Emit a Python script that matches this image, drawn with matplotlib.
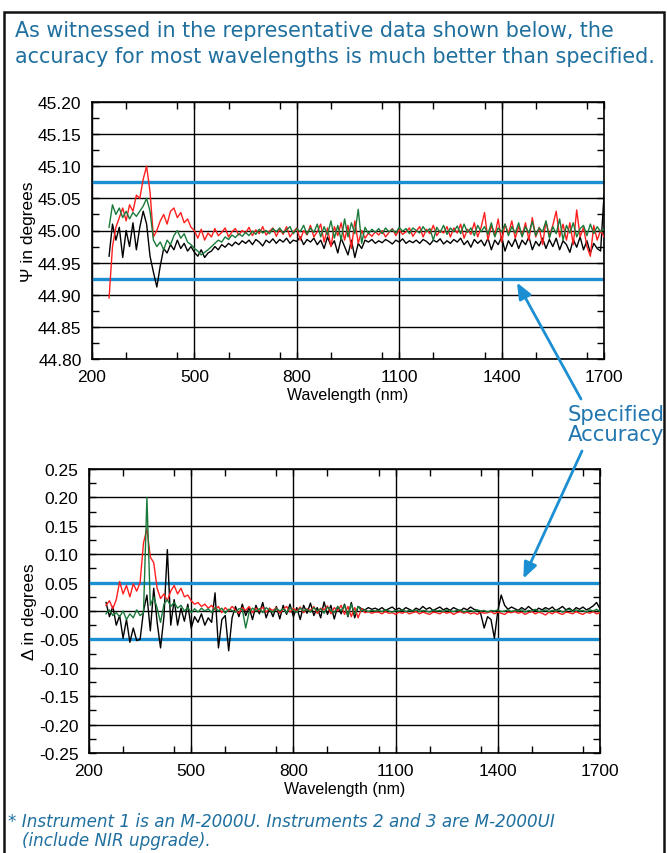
"""Psi / Delta accuracy of three instruments vs. wavelength."""

import matplotlib
matplotlib.use('Agg')
import matplotlib.pyplot as plt
from matplotlib.patches import Rectangle
from matplotlib.ticker import MultipleLocator
import numpy as np

# sampling grid (nm)
wavelength = np.arange(250, 1701, 10)

# Psi (degrees), one row per 100 nm starting at the commented wavelength
psi_inst1 = [  # black
    44.960, 45.010, 44.985, 45.005, 44.958, 45.000, 44.975, 45.012, 44.970, 45.005,  # 250
    45.030, 45.010, 44.960, 44.935, 44.912, 44.945, 44.972, 44.965, 44.978, 44.970,  # 350
    44.985, 44.972, 44.980, 44.968, 44.975, 44.966, 44.960, 44.970, 44.958, 44.965,  # 450
    44.968, 44.975, 44.970, 44.978, 44.974, 44.980, 44.976, 44.982, 44.978, 44.984,  # 550
    44.980, 44.985, 44.978, 44.986, 44.982, 44.976, 44.985, 44.981, 44.987, 44.980,  # 650
    44.986, 44.982, 44.988, 44.980, 44.985, 44.983, 44.990, 44.978, 44.986, 44.982,  # 750
    44.988, 44.978, 44.985, 44.972, 44.990, 44.976, 44.984, 44.965, 44.988, 44.975,  # 850
    44.962, 44.985, 44.958, 44.980, 44.972, 44.985, 44.982, 44.986, 44.980, 44.984,  # 950
    44.981, 44.986, 44.983, 44.979, 44.985, 44.982, 44.987, 44.980, 44.984, 44.981,  # 1050
    44.985, 44.980, 44.986, 44.983, 44.978, 44.985, 44.982, 44.987, 44.979, 44.984,  # 1150
    44.980, 44.986, 44.982, 44.988, 44.978, 44.984, 44.974, 44.986, 44.980, 44.985,  # 1250
    44.976, 44.988, 44.970, 44.985, 44.978, 44.990, 44.968, 44.984, 44.975, 44.987,  # 1350
    44.972, 44.985, 44.978, 44.990, 44.970, 44.983, 44.976, 44.988, 44.972, 44.986,  # 1450
    44.975, 44.988, 44.970, 44.984, 44.978, 44.966, 44.986, 44.974, 44.990, 44.970,  # 1550
    44.984, 44.965, 44.980, 44.972, 44.968, 45.055,                                  # 1650
]
psi_inst2 = [  # red
    44.895, 44.975, 45.005, 45.020, 45.035, 45.015, 45.040, 45.030, 45.055, 45.050,  # 250
    45.080, 45.100, 45.060, 44.990, 45.000, 45.015, 45.025, 45.010, 45.030, 45.035,  # 350
    45.020, 45.028, 45.012, 45.018, 45.005, 45.000, 44.988, 45.002, 44.985, 44.996,  # 450
    44.990, 45.003, 44.992, 44.997, 45.004, 44.990, 44.998, 45.003, 44.993, 45.000,  # 550
    44.996, 45.005, 44.992, 45.001, 44.995, 45.006, 44.993, 44.999, 45.004, 44.991,  # 650
    45.002, 44.994, 45.006, 44.990, 44.998, 45.004, 44.985, 45.000, 44.993, 45.008,  # 750
    44.990, 44.998, 45.010, 44.982, 45.004, 44.975, 45.006, 44.992, 45.012, 44.985,  # 850
    45.008, 44.972, 45.015, 44.980, 45.000, 44.988, 44.996, 44.991, 44.998, 44.993,  # 950
    45.000, 44.990, 44.997, 45.003, 44.992, 45.001, 44.994, 44.998, 45.004, 44.991,  # 1050
    44.999, 45.006, 44.990, 45.002, 44.995, 45.008, 44.992, 45.000, 44.996, 45.006,  # 1150
    44.990, 45.004, 44.996, 45.010, 44.988, 45.002, 44.994, 45.012, 44.990, 45.005,  # 1250
    45.028, 44.985, 45.008, 44.992, 45.018, 44.982, 45.010, 44.995, 45.015, 44.988,  # 1350
    45.006, 44.992, 45.012, 44.985, 45.020, 44.990, 45.005, 44.978, 45.014, 44.992,  # 1450
    45.008, 45.030, 44.990, 45.010, 44.985, 45.012, 44.978, 45.032, 44.990, 45.005,  # 1550
    44.975, 44.960, 45.008, 44.985, 45.000, 44.990,                                  # 1650
]
psi_inst3 = [  # green
    45.005, 45.040, 45.025, 45.035, 45.020, 45.030, 45.018, 45.028, 45.022, 45.030,  # 250
    45.038, 45.050, 45.030, 44.985, 44.975, 44.982, 44.970, 44.985, 44.978, 44.992,  # 350
    45.000, 44.988, 44.995, 44.982, 44.978, 44.972, 44.968, 44.962, 44.966, 44.970,  # 450
    44.975, 44.980, 44.985, 44.982, 44.990, 44.986, 44.993, 44.989, 44.995, 44.991,  # 550
    44.997, 44.992, 44.999, 44.994, 45.002, 44.996, 45.000, 44.995, 45.003, 44.998,  # 650
    45.004, 44.996, 45.001, 45.006, 44.995, 45.003, 44.998, 45.008, 44.994, 45.004,  # 750
    44.997, 45.010, 44.990, 45.006, 44.993, 45.015, 44.988, 45.008, 44.985, 45.018,  # 850
    44.990, 45.012, 44.995, 45.033, 44.980, 45.005, 44.995, 45.002, 44.997, 45.003,  # 950
    44.995, 45.004, 44.998, 45.002, 44.996, 45.005, 44.999, 45.003, 44.995, 45.004,  # 1050
    45.000, 44.996, 45.006, 44.998, 45.003, 44.985, 45.005, 44.997, 45.008, 44.994,  # 1150
    45.004, 44.998, 45.007, 44.995, 45.010, 44.997, 45.004, 44.992, 45.008, 44.998,  # 1250
    45.006, 44.994, 45.012, 44.990, 45.004, 44.998, 45.010, 44.992, 45.006, 44.996,  # 1350
    45.012, 44.990, 45.006, 44.996, 45.014, 44.992, 45.004, 44.998, 45.015, 44.988,  # 1450
    45.006, 44.995, 45.018, 44.985, 45.008, 44.996, 45.012, 44.990, 45.003, 45.008,  # 1550
    44.992, 45.010, 44.995, 45.006, 44.998, 45.002,                                  # 1650
]

# Delta (degrees)
delta_inst1 = [  # black
    0.015, -0.010, 0.008, -0.025, -0.008, -0.048, -0.015, -0.055, -0.030, -0.052,  # 250
    -0.050, 0.000, 0.028, -0.035, 0.040, -0.020, -0.065, -0.010, 0.108, -0.025,    # 350
    0.020, -0.025, 0.005, -0.018, 0.012, -0.030, -0.010, -0.020, -0.005, -0.025,   # 450
    -0.012, -0.020, 0.032, -0.065, -0.015, -0.008, -0.070, -0.012, 0.008, -0.010,  # 550
    0.012, -0.008, 0.006, -0.015, 0.010, -0.005, 0.015, -0.012, 0.005, -0.010,     # 650
    0.008, -0.014, 0.010, -0.006, 0.012, -0.010, 0.006, -0.015, 0.010, -0.004,     # 750
    0.014, -0.008, 0.006, -0.012, 0.016, -0.006, 0.010, -0.014, 0.008, -0.005,     # 850
    0.012, -0.010, 0.015, -0.012, 0.008, 0.004, 0.002, 0.006, 0.003, 0.005,        # 950
    0.002, 0.006, 0.001, 0.004, 0.007, 0.002, 0.005, 0.001, 0.006, 0.003,          # 1050
    0.000, 0.005, 0.002, 0.008, 0.003, 0.006, 0.001, 0.004, 0.007, 0.002,          # 1150
    0.005, 0.001, 0.006, 0.003, 0.000, 0.005, 0.002, 0.007, 0.003, 0.001,          # 1250
    -0.005, -0.030, -0.010, -0.015, -0.048, 0.000, 0.028, 0.010, 0.003, 0.007,     # 1350
    0.004, 0.001, 0.006, 0.002, 0.008, 0.003, 0.000, 0.005, 0.002, 0.006,          # 1450
    0.003, 0.007, 0.001, 0.004, 0.008, 0.002, 0.005, 0.000, 0.006, 0.003,          # 1550
    0.007, 0.002, 0.005, 0.009, 0.015, 0.004,                                      # 1650
]
delta_inst2 = [  # red
    0.010, 0.018, 0.004, 0.020, 0.052, 0.030, 0.045, 0.025, 0.048, 0.035,          # 250
    0.050, 0.120, 0.145, 0.095, 0.085, 0.040, 0.022, 0.030, 0.018, 0.035,          # 350
    0.045, 0.030, 0.040, 0.025, 0.028, 0.018, 0.012, 0.015, 0.008, 0.012,          # 450
    0.005, 0.010, 0.002, 0.008, -0.003, 0.006, 0.000, 0.008, 0.002, -0.004,        # 550
    0.006, 0.001, 0.008, -0.003, 0.005, 0.000, 0.007, -0.002, 0.004, 0.001,        # 650
    0.006, -0.004, 0.003, 0.008, -0.002, 0.005, 0.000, 0.007, -0.003, 0.004,       # 750
    0.001, 0.008, -0.004, 0.005, 0.002, 0.009, -0.005, 0.006, 0.000, 0.010,        # 850
    -0.006, 0.008, -0.010, 0.006, -0.012, 0.004, -0.003, -0.001, -0.004, -0.002,   # 950
    -0.002, -0.005, -0.001, -0.004, -0.003, -0.006, -0.002, -0.004, -0.001, -0.005,  # 1050
    -0.003, -0.001, -0.005, -0.002, -0.004, -0.006, -0.002, -0.003, -0.005, -0.001,  # 1150
    -0.004, -0.002, -0.006, -0.003, -0.001, -0.004, -0.002, -0.005, -0.003, -0.006,  # 1250
    -0.002, -0.004, -0.003, -0.001, -0.005, -0.002, -0.004, -0.006, -0.002, -0.003,  # 1350
    -0.001, -0.004, -0.002, -0.006, -0.003, -0.001, -0.005, -0.002, -0.004, -0.007,  # 1450
    -0.002, -0.005, -0.001, -0.004, -0.006, -0.002, -0.003, -0.005, -0.001, -0.004,  # 1550
    -0.006, -0.002, -0.004, -0.001, -0.005, -0.003,                                  # 1650
]
delta_inst3 = [  # green
    -0.005, 0.002, -0.008, -0.003, -0.010, 0.000, -0.015, -0.005, -0.012, 0.002,   # 250
    -0.008, -0.003, 0.200, 0.010, 0.025, 0.005, -0.020, 0.012, 0.020, 0.008,       # 350
    0.015, 0.005, 0.010, 0.000, 0.006, -0.003, 0.004, -0.002, 0.005, 0.000,       # 450
    0.004, -0.003, 0.006, 0.000, 0.005, -0.004, 0.003, 0.001, -0.002, 0.004,       # 550
    0.003, -0.030, -0.002, 0.005, 0.000, 0.004, -0.003, 0.006, 0.001, -0.002,      # 650
    0.005, 0.000, 0.004, -0.003, 0.006, 0.001, -0.002, 0.005, 0.000, 0.003,        # 750
    -0.002, 0.006, 0.000, 0.004, -0.004, 0.007, 0.001, -0.003, 0.008, 0.000,       # 850
    0.010, -0.008, 0.012, -0.006, 0.008, 0.000, 0.002, -0.001, 0.001, 0.000,       # 950
    0.001, -0.001, 0.002, 0.000, -0.002, 0.001, 0.000, 0.002, -0.001, 0.001,       # 1050
    0.000, 0.002, -0.001, 0.001, 0.000, -0.002, 0.002, 0.000, 0.001, -0.001,       # 1150
    0.002, 0.000, -0.001, 0.001, 0.002, -0.002, 0.000, 0.001, -0.001, 0.002,       # 1250
    0.000, 0.001, -0.002, 0.001, 0.000, 0.002, -0.001, 0.000, 0.002, -0.001,       # 1350
    0.001, 0.000, 0.002, -0.002, 0.001, 0.000, 0.003, -0.001, 0.000, 0.002,        # 1450
    -0.001, 0.001, 0.000, 0.002, -0.002, 0.001, 0.003, -0.001, 0.002, 0.000,       # 1550
    0.001, -0.002, 0.002, 0.000, 0.003, -0.001,                                    # 1650
]

# specified accuracy limits
psi_spec = [44.925, 45.075]
delta_spec = [-0.05, 0.05]

x_ticks = [200, 500, 800, 1100, 1400, 1700]
psi_ticks = [44.80, 44.85, 44.90, 44.95, 45.00, 45.05, 45.10, 45.15, 45.20]
psi_tick_labels = ['44.80', '44.85', '44.90', '44.95', '45.00', '45.05', '45.10', '45.15', '45.20']
delta_ticks = [-0.25, -0.20, -0.15, -0.10, -0.05, 0.00, 0.05, 0.10, 0.15, 0.20, 0.25]
delta_tick_labels = ['-0.25', '-0.20', '-0.15', '-0.10', '-0.05', '-0.00',
                     '0.05', '0.10', '0.15', '0.20', '0.25']

TEAL = '#1f6f9f'
SPEC_BLUE = '#1b8fd2'
RED = '#ff1e1e'
GREEN = '#1a7a3a'
NOTE_FONT = 'DejaVu Sans'

plt.rcParams['font.family'] = ['Liberation Sans', 'DejaVu Sans']

W, H = 667, 854
fig = plt.figure(figsize=(W / 100, H / 100), dpi=100)

# outer frame
fig.add_artist(Rectangle((4 / W, -0.01), 660 / W, 1 - 12.7 / H + 0.01,
                         transform=fig.transFigure, fill=False,
                         edgecolor='#111111', linewidth=1.8))

fig.text(15 / W, 1 - 37 / H, 'As witnessed in the representative data shown below, the',
         color=TEAL, fontsize=14.9, family=NOTE_FONT, va='baseline')
fig.text(15 / W, 1 - 63 / H, 'accuracy for most wavelengths is much better than specified.',
         color=TEAL, fontsize=14.9, family=NOTE_FONT, va='baseline')


def style_axes(ax, ticks, labels, ylabel):
    ax.set_xlim(200, 1700)
    ax.set_ylim(ticks[0], ticks[-1])
    ax.set_xticks(x_ticks)
    ax.xaxis.set_minor_locator(MultipleLocator(150))
    ax.set_yticks(ticks)
    ax.set_yticklabels(labels)
    ax.yaxis.set_minor_locator(MultipleLocator(0.025))
    ax.grid(True, which='major', color='black', linewidth=1.0, zorder=0)
    ax.set_axisbelow(True)
    ax.tick_params(which='both', direction='in', top=True, right=True,
                   length=5, width=1, labelsize=12.5, pad=7.5)
    for s in ax.spines.values():
        s.set_linewidth(1.2)
    ax.set_xlabel('Wavelength (nm)', fontsize=11.5, labelpad=2)
    ax.set_ylabel(ylabel, fontsize=12.5, labelpad=1)


ax1 = fig.add_axes([92 / W, 1 - 360 / H, 512 / W, 257 / H])
for lim in psi_spec:
    ax1.axhline(lim, color=SPEC_BLUE, linewidth=2.4, zorder=1)
ax1.plot(wavelength, psi_inst1, color='black', linewidth=1.0, zorder=2)
ax1.plot(wavelength, psi_inst2, color=RED, linewidth=1.0, zorder=3)
ax1.plot(wavelength, psi_inst3, color=GREEN, linewidth=1.0, zorder=4)
style_axes(ax1, psi_ticks, psi_tick_labels, 'Ψ in degrees')

ax2 = fig.add_axes([89 / W, 1 - 754 / H, 511 / W, 284 / H])
for lim in delta_spec:
    ax2.axhline(lim, color=SPEC_BLUE, linewidth=2.4, zorder=1)
ax2.plot(wavelength, delta_inst1, color='black', linewidth=1.0, zorder=2)
ax2.plot(wavelength, delta_inst2, color=RED, linewidth=1.0, zorder=3)
ax2.plot(wavelength, delta_inst3, color=GREEN, linewidth=1.0, zorder=4)
style_axes(ax2, delta_ticks, delta_tick_labels, 'Δ in degrees')

# "Specified Accuracy" callout with arrows to both limit lines
fig.text(616 / W, 1 - 425 / H, 'Specified\nAccuracy', color='#2277b0',
         fontsize=15.3, family=NOTE_FONT, ha='center', va='center', linespacing=1.0)
arrow_kw = dict(arrowstyle='-|>,head_length=0.6,head_width=0.25', color=SPEC_BLUE,
                lw=2, mutation_scale=16, shrinkA=0, shrinkB=0)
ax1.annotate('', xy=(1445, psi_spec[0] - 0.006), xycoords='data',
             xytext=(581, H - 400), textcoords='figure pixels', arrowprops=arrow_kw)
ax2.annotate('', xy=(1475, delta_spec[1] + 0.007), xycoords='data',
             xytext=(582, H - 452), textcoords='figure pixels', arrowprops=arrow_kw)

fig.text(8 / W, 1 - 822 / H,
         '* Instrument 1 is an M-2000U. Instruments 2 and 3 are M-2000UI',
         color=TEAL, fontsize=12.1, family=NOTE_FONT, style='italic', va='center')
fig.text(22 / W, 1 - 841 / H, '(include NIR upgrade).',
         color=TEAL, fontsize=12.1, family=NOTE_FONT, style='italic', va='center')

fig.savefig('out.png', dpi=100)
